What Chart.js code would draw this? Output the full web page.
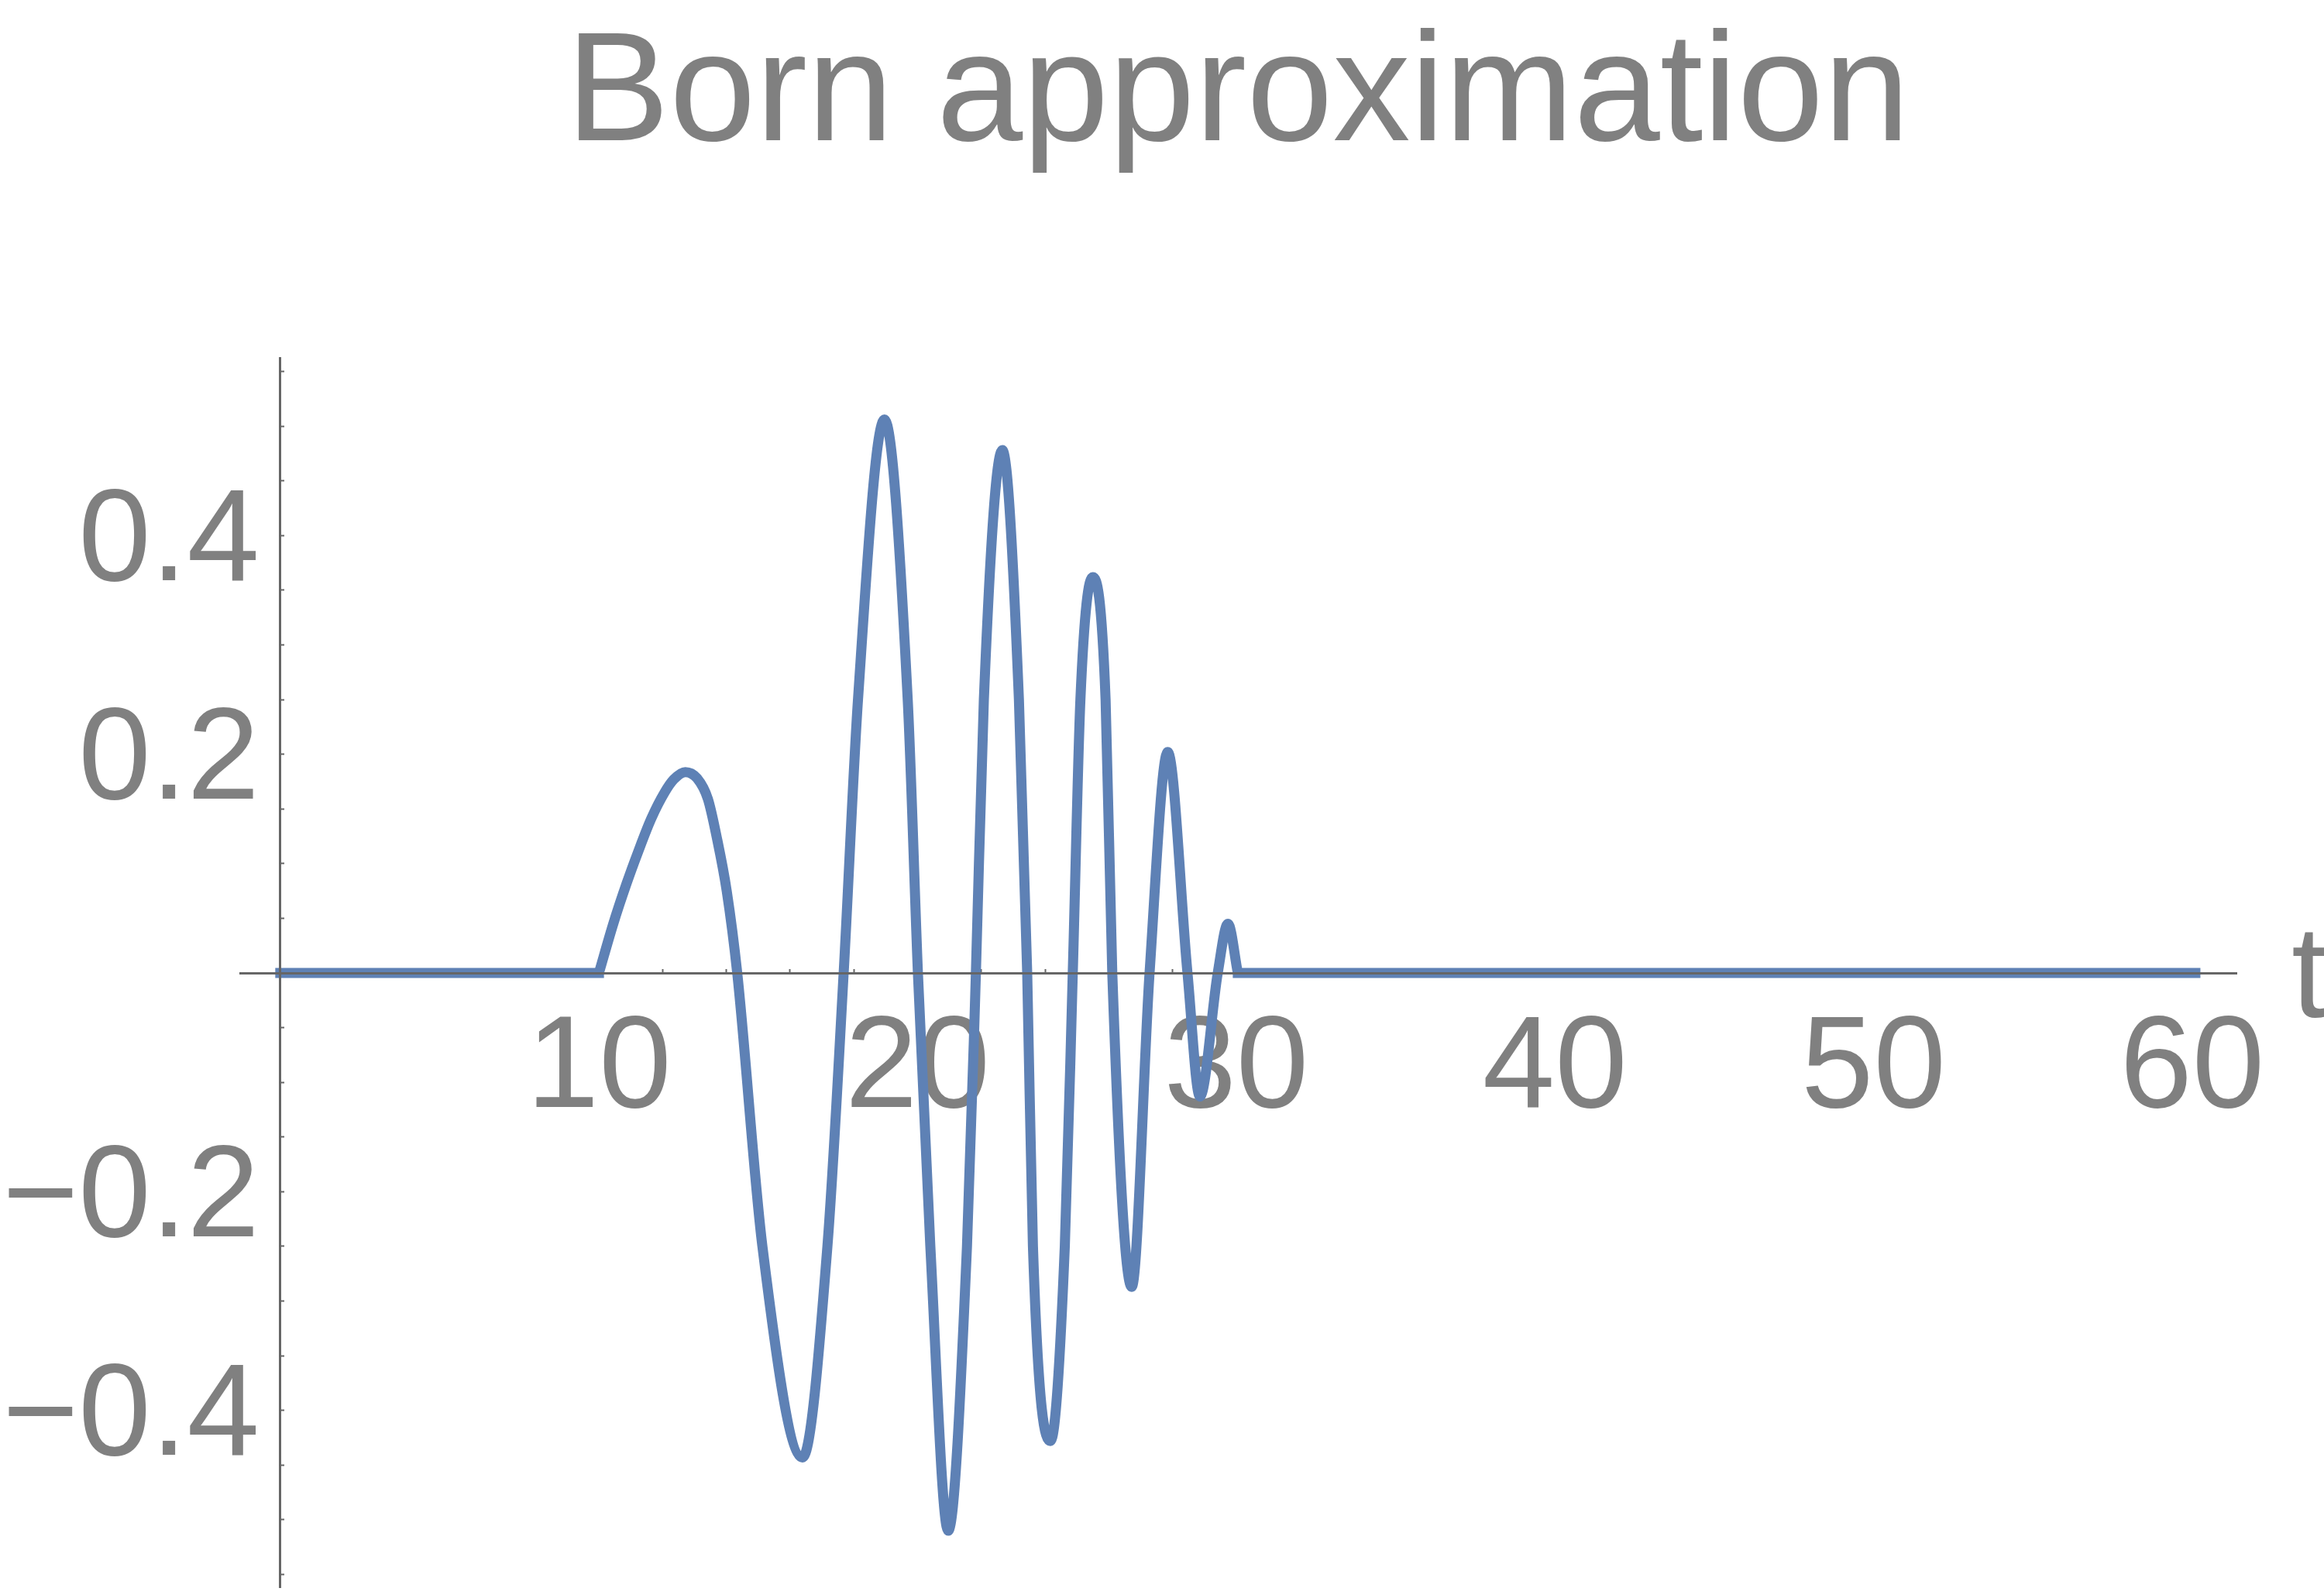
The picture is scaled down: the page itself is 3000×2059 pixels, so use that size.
<!DOCTYPE html>
<html>
<head>
<meta charset="utf-8">
<script src="https://cdn.jsdelivr.net/npm/chart.js@4/dist/chart.umd.min.js"></script>
<style>
html,body{margin:0;padding:0;background:#ffffff;}
#wrap{width:3000px;height:2059px;position:relative;}
canvas{display:block;}
</style>
</head>
<body>
<div id="wrap"><canvas id="c" width="3000" height="2059"></canvas></div>
<script>
// ---------- data ----------
const chartTitle = "Born approximation";
const xAxisName = "t";

// flat part before the pulse
const tBefore = [0, 10];
const yBefore = [0, 0];

// the oscillating pulse
const tPulse = [10, 10.45, 10.87, 11.22, 11.64, 12.06, 12.35, 12.71, 13.08, 13.42,
                13.69, 14.01, 14.34, 15.13, 16.39,
                17.17, 17.68, 18.13, 18.96, 19.69, 20.01, 20.40, 20.96, 21.55, 21.83,
                22.08, 22.66, 23.18, 23.44, 23.62, 24.17, 24.62, 24.87, 25.11, 25.50,
                25.90, 26.11, 26.72, 27.28, 27.85, 28.47, 28.86, 29.42, 29.74, 30.05];
const yPulse = [0, 0.045, 0.082, 0.110, 0.141, 0.165, 0.177, 0.1837, 0.178, 0.159,
                0.125, 0.075, 0, -0.25, -0.443,
                -0.25, 0, 0.25, 0.506, 0.25, 0, -0.25, -0.510, -0.25, 0,
                0.25, 0.478, 0.25, 0, -0.25, -0.428, -0.25, 0, 0.25, 0.362,
                0.25, 0, -0.287, 0, 0.202, 0, -0.113, 0, 0.045, 0];

// flat part after the pulse
const tAfter = [30.05, 60.1];
const yAfter = [0, 0];

// axis ticks
const xTickPositions = [2,4,6,8,10,12,14,16,18,20,22,24,26,28,30,32,34,36,38,40,42,44,46,48,50,52,54,56,58,60];
const xTickValues = [10, 20, 30, 40, 50, 60];
const xTickLabels = ["10", "20", "30", "40", "50", "60"];
const yTickPositions = [-0.55,-0.5,-0.45,-0.4,-0.35,-0.3,-0.25,-0.2,-0.15,-0.1,-0.05,0.05,0.1,0.15,0.2,0.25,0.3,0.35,0.4,0.45,0.5,0.55];
const yTickValues = [-0.4, -0.2, 0.2, 0.4];
const yTickLabels = ["\u22120.4", "\u22120.2", "0.2", "0.4"];

// ---------- styling ----------
const FONT = '"Liberation Sans", Arial, Helvetica, sans-serif';
const LINE_COLOR = '#5E81B5';
const AXIS_COLOR = '#666666';
const TEXT_COLOR = '#808080';
const Y_LABEL_SHIFT = [-27, 11];

function pts(xs, ys) { return xs.map((x, i) => ({x: x, y: ys[i]})); }
function lookup(vals, labels, v) {
  for (let i = 0; i < vals.length; i++) if (Math.abs(vals[i] - v) < 1e-9) return labels[i];
  return '';
}
function zeroPad(s) { s.paddingLeft = 0; s.paddingRight = 0; s.paddingTop = 0; s.paddingBottom = 0; }

const textPlugin = {
  id: 'textPlugin',
  beforeDraw(chart) {
    try {
      const ys = chart.scales.y;
      const items = ys.getLabelItems(chart.chartArea);
      if (items && !items._shifted) {
        items.forEach(it => {
          it.options.translation[0] += Y_LABEL_SHIFT[0];
          it.options.translation[1] += Y_LABEL_SHIFT[1];
        });
        items._shifted = true;
      }
    } catch (e) {}
  },
  afterDraw(chart) {
    const ctx = chart.ctx;
    ctx.save();
    ctx.fillStyle = TEXT_COLOR;
    ctx.textBaseline = 'alphabetic';
    ctx.font = '200px ' + FONT;
    ctx.textAlign = 'center';
    ctx.fillText(chartTitle, 1598, 181);
    ctx.font = '168px ' + FONT;
    ctx.textAlign = 'left';
    ctx.fillText(xAxisName, 2958, 1313);
    ctx.restore();
  }
};

const lineStyle = {
  borderColor: LINE_COLOR,
  borderWidth: 13,
  pointRadius: 0,
  pointHoverRadius: 0,
  fill: false,
  borderCapStyle: 'square',
  borderJoinStyle: 'round'
};

new Chart(document.getElementById('c'), {
  type: 'line',
  data: {
    datasets: [
      Object.assign({label: 'before', data: pts(tBefore, yBefore), tension: 0}, lineStyle),
      Object.assign({label: 'pulse', data: pts(tPulse, yPulse), cubicInterpolationMode: 'monotone'}, lineStyle, {borderCapStyle: 'butt'}),
      Object.assign({label: 'after', data: pts(tAfter, yAfter), tension: 0}, lineStyle)
    ]
  },
  options: {
    responsive: false,
    devicePixelRatio: 1,
    animation: false,
    events: [],
    layout: {padding: {left: 310, right: 113, top: 462.5, bottom: 9.5}},
    plugins: {legend: {display: false}, title: {display: false}, tooltip: {enabled: false}},
    scales: {
      x: {
        type: 'linear',
        min: -1.26,
        max: 61.39,
        position: {y: 0},
        afterBuildTicks: (s) => { s.ticks = xTickPositions.map(v => ({value: v})); },
        afterFit: zeroPad,
        ticks: {
          autoSkip: false, maxRotation: 0, minRotation: 0,
          color: TEXT_COLOR, padding: 33,
          font: {family: FONT, size: 168, lineHeight: 1.2},
          callback: (v) => lookup(xTickValues, xTickLabels, v)
        },
        grid: {display: true, drawOnChartArea: false, drawTicks: true, tickLength: -7, tickColor: AXIS_COLOR, tickWidth: 2},
        border: {display: true, color: AXIS_COLOR, width: 3, z: 1}
      },
      y: {
        type: 'linear',
        min: -0.562,
        max: 0.562,
        position: {x: 0},
        afterBuildTicks: (s) => { s.ticks = yTickPositions.map(v => ({value: v})); },
        afterFit: zeroPad,
        ticks: {
          autoSkip: false,
          color: TEXT_COLOR, padding: 30,
          font: {family: FONT, size: 168, lineHeight: 1.2},
          callback: (v) => lookup(yTickValues, yTickLabels, v)
        },
        grid: {display: true, drawOnChartArea: false, drawTicks: true, tickLength: -7, tickColor: AXIS_COLOR, tickWidth: 2},
        border: {display: true, color: AXIS_COLOR, width: 3, z: 1}
      }
    }
  },
  plugins: [textPlugin]
});
</script>
</body>
</html>
